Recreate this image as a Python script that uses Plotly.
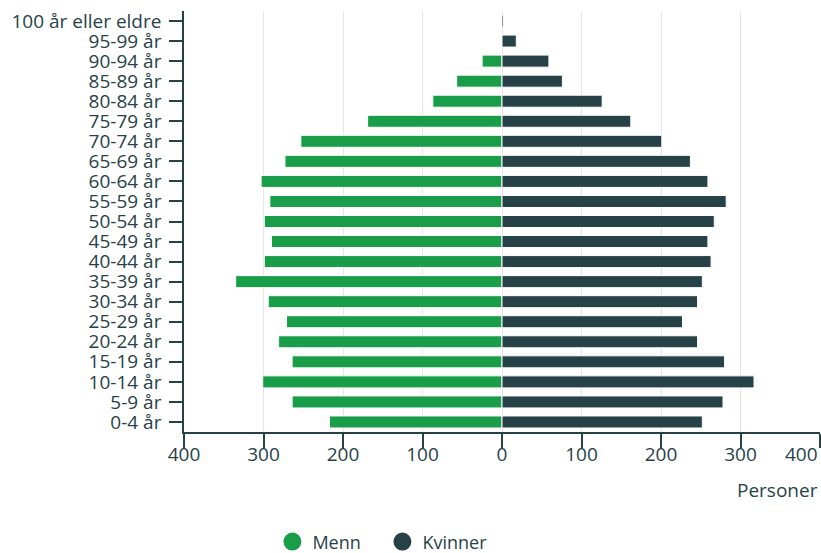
import plotly.graph_objects as go

kategorier = ["0-4 år", "5-9 år", "10-14 år", "15-19 år", "20-24 år", "25-29 år",
              "30-34 år", "35-39 år", "40-44 år", "45-49 år", "50-54 år", "55-59 år",
              "60-64 år", "65-69 år", "70-74 år", "75-79 år", "80-84 år", "85-89 år",
              "90-94 år", "95-99 år", "100 år eller eldre"]
menn = [217, 264, 301, 264, 281, 271, 294, 335, 299, 290, 299, 292,
        303, 273, 253, 169, 87, 57, 25, 0, 0]
kvinner = [252, 278, 317, 280, 246, 227, 246, 252, 263, 259, 267, 282,
           259, 237, 201, 162, 126, 76, 59, 18, 2]
tick_verdier = [-400, -300, -200, -100, 0, 100, 200, 300, 400]

GREEN = "#1a9d49"
DARK = "#274247"
TEXT = "#274247"
FONT = "Open Sans"

fig = go.Figure()
fig.add_trace(go.Bar(y=kategorier, x=[-v for v in menn], orientation="h", name="Menn",
                     marker=dict(color=GREEN, line=dict(color="white", width=1)),
                     showlegend=False))
fig.add_trace(go.Bar(y=kategorier, x=kvinner, orientation="h", name="Kvinner",
                     marker=dict(color=DARK, line=dict(color="white", width=1)),
                     showlegend=False))
# legend entries with circle symbols
fig.add_trace(go.Scatter(x=[None], y=[None], mode="markers", name="Menn",
                         marker=dict(color=GREEN, size=16, symbol="circle",
                                     line=dict(color=GREEN, width=2))))
fig.add_trace(go.Scatter(x=[None], y=[None], mode="markers", name="Kvinner",
                         marker=dict(color=DARK, size=16, symbol="circle",
                                     line=dict(color=DARK, width=2))))

ticktext = [str(abs(v)) for v in tick_verdier]
ticktext[-1] = ""

fig.update_layout(
    width=821, height=553,
    margin=dict(l=184, r=1, t=11, b=121, autoexpand=False),
    barmode="relative", bargap=0.4,
    plot_bgcolor="white", paper_bgcolor="white",
    font=dict(family=FONT, size=19, color=TEXT),
    xaxis=dict(range=[-400, 400], tickvals=tick_verdier, ticktext=ticktext,
               showgrid=True, gridcolor="#e6e6e6", gridwidth=1, zeroline=False,
               showline=True, linecolor=DARK, linewidth=1.5,
               ticks="outside", ticklen=14, tickcolor=DARK, tickwidth=1.5,
               ticklabelstandoff=-10,
               tickfont=dict(size=19, color=TEXT), fixedrange=True, automargin=False),
    yaxis=dict(categoryorder="array", categoryarray=kategorier,
               tickmode="array", tickvals=kategorier,
               showgrid=False, zeroline=False,
               showline=True, linecolor=DARK, linewidth=1.5,
               ticks="outside", ticklen=13, tickcolor=DARK, tickwidth=1.5,
               ticklabelstandoff=4,
               tickfont=dict(size=19, color=TEXT), fixedrange=True, automargin=False),
    legend=dict(orientation="h", x=0.139, xanchor="left", y=-0.261, yanchor="middle",
                font=dict(size=18, color=TEXT), itemsizing="trace",
                entrywidth=65, entrywidthmode="pixels"),
    annotations=[
        dict(x=tick_verdier[-1], xref="x", y=0, yref="paper", yshift=-7,
             text=str(tick_verdier[-1]), showarrow=False, xanchor="right", yanchor="top",
             font=dict(size=19, color=TEXT)),
        dict(x=1, xref="paper", y=0, yref="paper", yshift=-43,
             text="Personer", showarrow=False, xanchor="right", yanchor="top",
             font=dict(size=19, color=TEXT)),
    ],
)

fig.write_html("out.html", config={"displayModeBar": False},
               post_script="document.body.style.margin='0';")
